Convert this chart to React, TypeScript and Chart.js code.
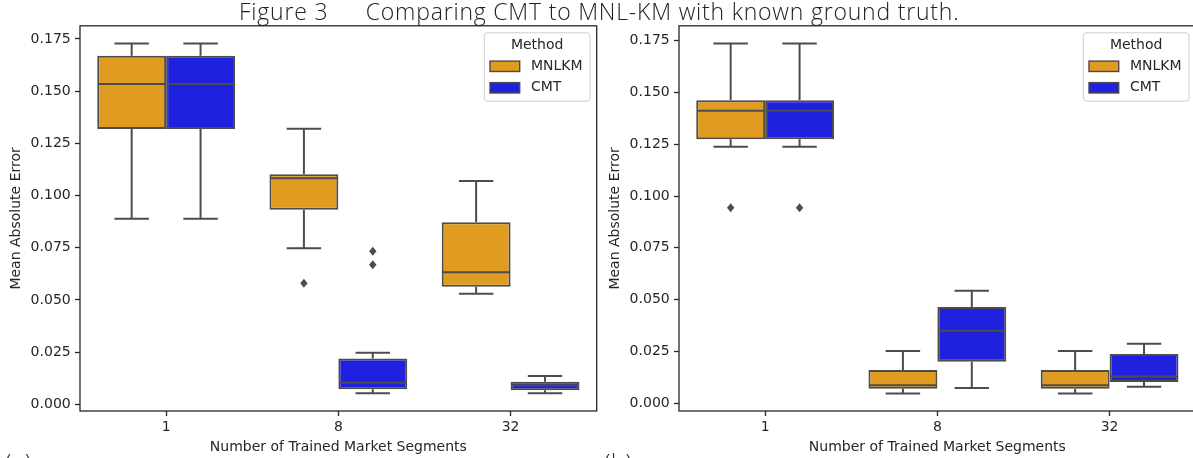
import React, { useEffect, useRef } from 'react';
import { Chart, registerables } from 'chart.js';

Chart.register(...registerables);

// ---------- data ----------
const categories = ['1', '8', '32'];
const methods = ['MNLKM', 'CMT'];
const methodColors = ['#DF9C20', '#2020DF'];
const yTicks = [0, 0.025, 0.05, 0.075, 0.1, 0.125, 0.15, 0.175];

// panel (a)
const aMnlkmLow = [0.0889, 0.0747, 0.053];
const aMnlkmQ1 = [0.1319, 0.0932, 0.0563];
const aMnlkmMedian = [0.1534, 0.1083, 0.0632];
const aMnlkmQ3 = [0.1669, 0.1102, 0.0872];
const aMnlkmHigh = [0.1728, 0.132, 0.107];
const aMnlkmOutliers = [[], [0.058], []];

const aCmtLow = [0.0889, 0.0053, 0.0053];
const aCmtQ1 = [0.1319, 0.0072, 0.0067];
const aCmtMedian = [0.1534, 0.0103, 0.0091];
const aCmtQ3 = [0.1669, 0.022, 0.0108];
const aCmtHigh = [0.1728, 0.0247, 0.0136];
const aCmtOutliers = [[], [0.0733, 0.0669], []];

const aYRange = [-0.0032, 0.1813];

// panel (b)
const bMnlkmLow = [0.1238, 0.0047, 0.0047];
const bMnlkmQ1 = [0.1274, 0.007, 0.007];
const bMnlkmMedian = [0.1412, 0.0086, 0.0086];
const bMnlkmQ3 = [0.1462, 0.016, 0.016];
const bMnlkmHigh = [0.1736, 0.0252, 0.0252];
const bMnlkmOutliers = [[0.0944], [], []];

const bCmtLow = [0.1238, 0.0073, 0.0079];
const bCmtQ1 = [0.1274, 0.02, 0.0102];
const bCmtMedian = [0.1412, 0.035, 0.0128];
const bCmtQ3 = [0.1462, 0.0464, 0.0237];
const bCmtHigh = [0.1736, 0.0543, 0.0287];
const bCmtOutliers = [[0.0944], [], []];

const bYRange = [-0.0038, 0.1822];

const titleLead = 'Figure 3';
const titleMain = 'Comparing CMT to MNL-KM with known ground truth.';
const xTitle = 'Number of Trained Market Segments';
const yTitle = 'Mean Absolute Error';
const legendTitle = 'Method';

// ---------- styling ----------
const GRAY = '#4c4c4c';
const INK = '#262626';
const FONT = '"DejaVu Sans", sans-serif';

type Series = {
  low: number[]; q1: number[]; median: number[]; q3: number[]; high: number[]; outliers: number[][];
};

const panelA: Series[] = [
  { low: aMnlkmLow, q1: aMnlkmQ1, median: aMnlkmMedian, q3: aMnlkmQ3, high: aMnlkmHigh, outliers: aMnlkmOutliers },
  { low: aCmtLow, q1: aCmtQ1, median: aCmtMedian, q3: aCmtQ3, high: aCmtHigh, outliers: aCmtOutliers },
];
const panelB: Series[] = [
  { low: bMnlkmLow, q1: bMnlkmQ1, median: bMnlkmMedian, q3: bMnlkmQ3, high: bMnlkmHigh, outliers: bMnlkmOutliers },
  { low: bCmtLow, q1: bCmtQ1, median: bCmtMedian, q3: bCmtQ3, high: bCmtHigh, outliers: bCmtOutliers },
];

const boxPlugin = {
  id: 'boxExtras',
  afterDatasetsDraw(chart: any, _args: any, opts: any) {
    const series: Series[] = opts.series;
    if (!series) return;
    const { ctx } = chart;
    const y = chart.scales.y;
    ctx.save();
    ctx.strokeStyle = GRAY;
    ctx.fillStyle = GRAY;
    ctx.lineWidth = 2;
    ctx.lineCap = 'butt';
    series.forEach((s, di) => {
      const meta = chart.getDatasetMeta(di);
      meta.data.forEach((bar: any, i: number) => {
        const { x, width } = bar.getProps(['x', 'width'], true);
        const yLow = y.getPixelForValue(s.low[i]);
        const yQ1 = y.getPixelForValue(s.q1[i]);
        const yMed = y.getPixelForValue(s.median[i]);
        const yQ3 = y.getPixelForValue(s.q3[i]);
        const yHigh = y.getPixelForValue(s.high[i]);
        ctx.beginPath();
        ctx.moveTo(x, yQ3);
        ctx.lineTo(x, yHigh);
        ctx.moveTo(x, yQ1);
        ctx.lineTo(x, yLow);
        ctx.moveTo(x - width / 4, yHigh);
        ctx.lineTo(x + width / 4, yHigh);
        ctx.moveTo(x - width / 4, yLow);
        ctx.lineTo(x + width / 4, yLow);
        ctx.moveTo(x - width / 2 + 1, yMed);
        ctx.lineTo(x + width / 2 - 1, yMed);
        ctx.stroke();
        s.outliers[i].forEach((v) => {
          const py = y.getPixelForValue(v);
          ctx.beginPath();
          ctx.moveTo(x, py - 4.5);
          ctx.lineTo(x + 3.7, py);
          ctx.lineTo(x, py + 4.5);
          ctx.lineTo(x - 3.7, py);
          ctx.closePath();
          ctx.fill();
        });
      });
    });
    ctx.restore();
  },
  afterDraw(chart: any) {
    const { ctx, chartArea: a } = chart;
    ctx.save();
    ctx.strokeStyle = INK;
    ctx.lineWidth = 1.3;
    ctx.strokeRect(a.left, a.top, a.right - a.left, a.bottom - a.top);
    const lw = 105.7;
    const lh = 68.3;
    const lx = a.right - 6.7 - lw;
    const ly = a.top + 7;
    ctx.beginPath();
    if (ctx.roundRect) ctx.roundRect(lx, ly, lw, lh, 3);
    else ctx.rect(lx, ly, lw, lh);
    ctx.fillStyle = 'rgba(255,255,255,0.8)';
    ctx.fill();
    ctx.strokeStyle = '#cccccc';
    ctx.lineWidth = 1;
    ctx.stroke();
    ctx.font = `14px ${FONT}`;
    ctx.fillStyle = INK;
    ctx.textAlign = 'center';
    ctx.textBaseline = 'middle';
    ctx.fillText(legendTitle, lx + lw / 2, ly + 12.5);
    methods.forEach((m, i) => {
      const cy = ly + 33.5 + i * 21.5;
      ctx.fillStyle = methodColors[i];
      ctx.fillRect(lx + 5.7, cy - 5.2, 29.7, 10.4);
      ctx.strokeStyle = GRAY;
      ctx.lineWidth = 1.4;
      ctx.strokeRect(lx + 5.7, cy - 5.2, 29.7, 10.4);
      ctx.fillStyle = INK;
      ctx.textAlign = 'left';
      ctx.fillText(m, lx + 46.7, cy);
    });
    ctx.restore();
  },
};

function Panel({ left, series, yRange }: { left: number; series: Series[]; yRange: number[] }) {
  const ref = useRef<HTMLCanvasElement>(null);
  useEffect(() => {
    if (!ref.current) return;
    const tickFont = { family: FONT, size: 14 };
    const chart = new Chart(ref.current, {
      type: 'bar',
      data: {
        labels: categories,
        datasets: series.map((s, di) => ({
          label: methods[di],
          data: s.q1.map((v, i) => [v, s.q3[i]]) as any,
          backgroundColor: methodColors[di],
          borderColor: GRAY,
          borderWidth: 2,
          borderSkipped: false,
          categoryPercentage: 0.8,
          barPercentage: 1.0,
        })),
      },
      options: {
        animation: false,
        responsive: true,
        maintainAspectRatio: false,
        events: [],
        layout: { padding: { top: 25.8, right: 3.3, left: 0, bottom: 0 } },
        plugins: {
          legend: { display: false },
          tooltip: { enabled: false },
          boxExtras: { series },
        } as any,
        scales: {
          x: {
            type: 'category',
            offset: true,
            afterFit: (s: any) => { s.height = 47; },
            ticks: { font: tickFont, color: INK, padding: 3, maxRotation: 0 },
            grid: { offset: false, drawOnChartArea: false, drawTicks: true, tickLength: 5, tickColor: INK, tickWidth: 1.3 },
            border: { display: false },
            title: { display: true, text: xTitle, font: tickFont, color: INK, padding: { top: 4, bottom: 2.6 } },
          },
          y: {
            type: 'linear',
            min: yRange[0],
            max: yRange[1],
            afterFit: (s: any) => { s.width = 80; },
            afterBuildTicks: (s: any) => { s.ticks = yTicks.map((v) => ({ value: v })); },
            ticks: { font: tickFont, color: INK, padding: 4.3, callback: (v: any) => Number(v).toFixed(3) },
            grid: { drawOnChartArea: false, drawTicks: true, tickLength: 5, tickColor: INK, tickWidth: 1.3 },
            border: { display: false },
            title: { display: true, text: yTitle, font: tickFont, color: INK, padding: { top: 7.5, bottom: 4 } },
          },
        },
      },
      plugins: [boxPlugin],
    });
    return () => chart.destroy();
  }, []);
  return (
    <div style={{ position: 'absolute', left, top: 0, width: 600, height: 458 }}>
      <canvas ref={ref} />
    </div>
  );
}

const titleStyle: React.CSSProperties = {
  position: 'absolute', top: 0.3, fontFamily: '"Open Sans", sans-serif', fontWeight: 300,
  fontSize: 23, lineHeight: '23px', letterSpacing: '0.8px', whiteSpace: 'pre', color: '#222',
};

export default function App() {
  return (
    <div style={{ position: 'fixed', left: 0, top: 0, width: 1193, height: 458, overflow: 'hidden', background: '#fff' }}>
      <Panel left={0} series={panelA} yRange={aYRange} />
      <Panel left={599.3} series={panelB} yRange={bYRange} />
      <div style={{ ...titleStyle, left: 239 }}>{titleLead}</div>
      <div style={{ ...titleStyle, left: 365.7 }}>{titleMain}</div>
      <div style={{ ...titleStyle, left: 5, top: 451 }}>(a)</div>
      <div style={{ ...titleStyle, left: 604, top: 451 }}>(b)</div>
    </div>
  );
}
